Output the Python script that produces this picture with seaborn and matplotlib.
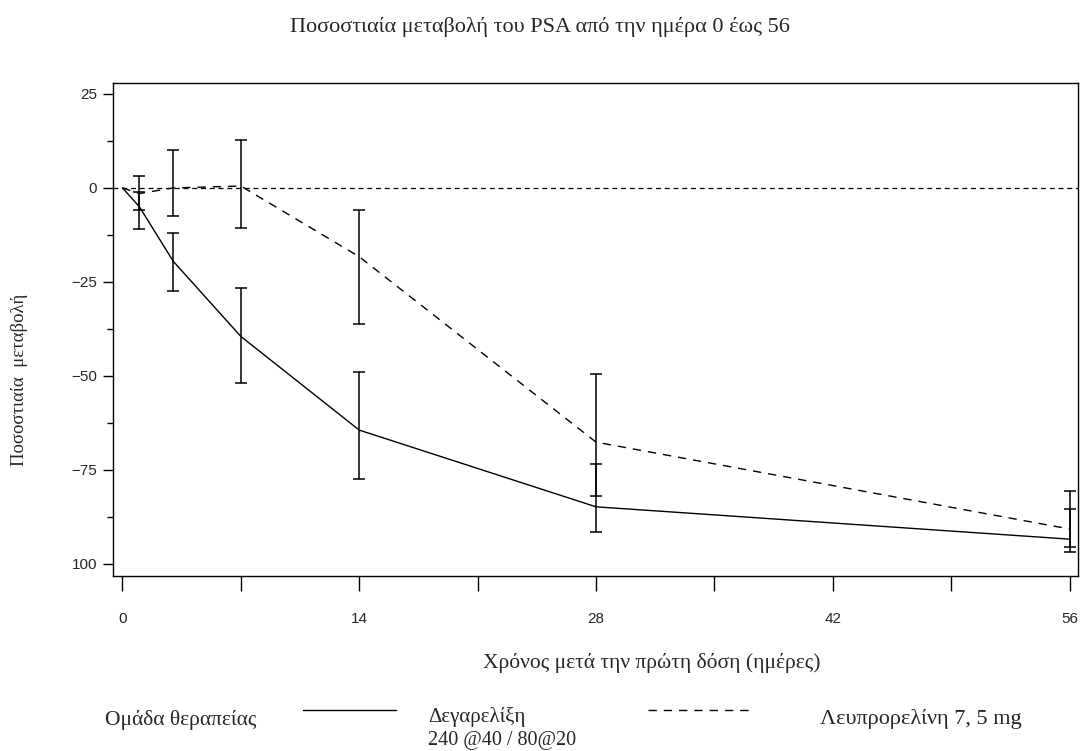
import numpy as np
import pandas as pd
import matplotlib
matplotlib.use("Agg")
import matplotlib.pyplot as plt
from matplotlib.lines import Line2D
from matplotlib.ticker import FixedLocator, FixedFormatter
import seaborn as sns

# ---- data ----
days = [0, 1, 3, 7, 14, 28, 56]
dega_mean = [0, -5.0, -19.5, -39.5, -64.4, -84.8, -93.4]
dega_low = [0, -11.0, -27.4, -51.8, -77.5, -91.4, -95.4]
dega_high = [0, -1.0, -11.9, -26.6, -48.9, -73.5, -85.5]
leup_mean = [0, -1.5, 0.0, 0.5, -18.3, -67.6, -90.7]
leup_low = [0, -6.0, -7.4, -10.7, -36.2, -81.8, -96.9]
leup_high = [0, 3.2, 10.1, 12.8, -5.9, -49.5, -80.6]

group_names = ["Δεγαρελίξη\n240 @40 / 80@20", "Λευπρορελίνη 7, 5 mg"]
x_ticks = [0, 14, 28, 42, 56]
x_minor = [7, 21, 35, 49]
y_ticks = [25, 0, -25, -50, -75, -100]
y_tick_labels = ["25", "0", "\u221225", "\u221250", "\u221275", "100"]
y_minor = [12.5, -12.5, -37.5, -62.5, -87.5]

title = "Ποσοστιαία μεταβολή του PSA από την ημέρα 0 έως 56"
xlabel = "Χρόνος μετά την πρώτη δόση (ημέρες)"
ylabel = "Ποσοστιαία  μεταβολή"
legend_title = "Ομάδα θεραπείας"

sns.set_theme(style="ticks")
plt.rcParams["font.family"] = ["Liberation Serif", "DejaVu Serif"]

W, H = 1080, 751
fig = plt.figure(figsize=(W / 100, H / 100), dpi=100)
ax = fig.add_axes([113 / W, 1 - 576 / H, (1078 - 113) / W, (576 - 83) / H])

df = pd.DataFrame({
    "day": days * 2,
    "val": dega_mean + leup_mean,
    "group": [group_names[0]] * len(days) + [group_names[1]] * len(days),
})

sns.lineplot(data=df, x="day", y="val", hue="group", style="group",
             palette=["black", "black"],
             dashes={group_names[0]: "", group_names[1]: (6, 5)},
             linewidth=1.0, legend=False, ax=ax, errorbar=None)

for mean, lo, hi in [(dega_mean, dega_low, dega_high), (leup_mean, leup_low, leup_high)]:
    m = np.array(mean[1:])
    l = np.array(lo[1:])
    h = np.array(hi[1:])
    ax.errorbar(days[1:], m, yerr=[m - l, h - m], fmt="none", ecolor="black",
                elinewidth=1.1, capsize=4.5, capthick=1.1)

ax.axhline(0, color="black", lw=0.9, ls=(0, (4, 3)), zorder=1)

ax.set_xlim(-0.56, 56.5)
ax.set_ylim(-103.2, 27.9)

ax.xaxis.set_major_locator(FixedLocator(x_ticks))
ax.xaxis.set_minor_locator(FixedLocator(x_minor))
ax.yaxis.set_major_locator(FixedLocator(y_ticks))
ax.yaxis.set_major_formatter(FixedFormatter(y_tick_labels))
ax.yaxis.set_minor_locator(FixedLocator(y_minor))

for lab in ax.get_xticklabels() + ax.get_yticklabels():
    lab.set_family(["Liberation Sans", "DejaVu Sans"])
ax.tick_params(axis="x", which="major", length=11, width=1, color="black",
               labelsize=11, pad=15, direction="out")
ax.tick_params(axis="x", which="minor", length=11, width=1, color="black", direction="out")
ax.tick_params(axis="y", which="major", length=7.5, width=1, color="black",
               labelsize=11, pad=4, direction="out")
ax.tick_params(axis="y", which="minor", length=4, width=1, color="black", direction="out")

for s in ax.spines.values():
    s.set_visible(True)
    s.set_color("black")
    s.set_linewidth(1.0)

ax.set_xlabel("")
ax.set_ylabel("")

fig.text(540 / W, 1 - 27 / H, title, ha="center", va="center", fontsize=16)
fig.text(652 / W, 1 - 663 / H, xlabel, ha="center", va="center", fontsize=15.5)
fig.text(20 / W, 1 - 380 / H, ylabel, ha="center", va="center", rotation=90, fontsize=13.5)

# legend row
fig.text(105 / W, 1 - 720 / H, legend_title, ha="left", va="center", fontsize=15.5)
fig.add_artist(Line2D([303 / W, 396 / W], [1 - 710 / H] * 2, color="black", lw=1.0,
                      transform=fig.transFigure))
fig.text(428 / W, 1 - 717 / H, group_names[0].split("\n")[0], ha="left", va="center", fontsize=15)
fig.text(428 / W, 1 - 740 / H, group_names[0].split("\n")[1], ha="left", va="center", fontsize=14.5)
fig.add_artist(Line2D([648 / W, 748 / W], [1 - 710 / H] * 2, color="black", lw=1.0,
                      ls=(0, (6, 5)), transform=fig.transFigure))
fig.text(820 / W, 1 - 719 / H, group_names[1], ha="left", va="center", fontsize=16)

fig.savefig("out.png", dpi=100, facecolor="white")
